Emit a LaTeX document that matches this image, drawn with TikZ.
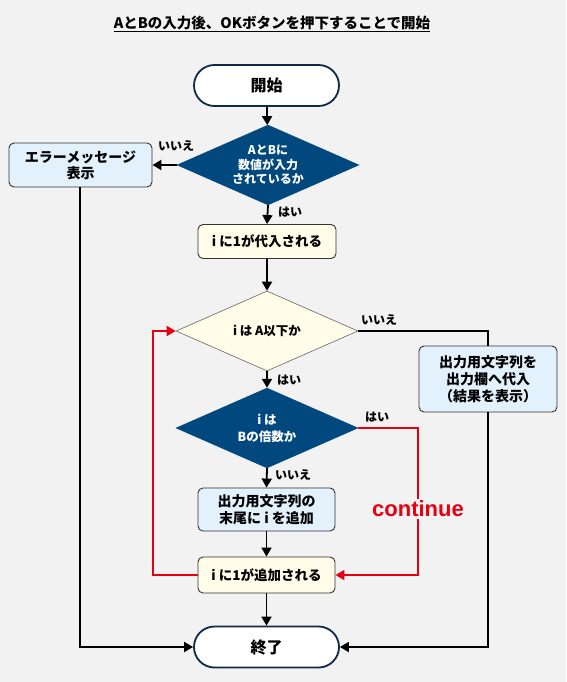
\documentclass[tikz,border=0pt]{standalone}
\usepackage{fontspec}
\setmainfont{Noto Sans CJK JP}
\newfontfamily\latinbold{Liberation Sans}
\usetikzlibrary{shapes.geometric,shapes.misc,arrows.meta}
\definecolor{bg}{HTML}{F2F2F2}
\definecolor{navy}{HTML}{0E2A47}
\definecolor{decblue}{HTML}{00487E}
\definecolor{lblue}{HTML}{E2F1FB}
\definecolor{lyellow}{HTML}{FFFDE8}
\definecolor{boxborder}{HTML}{333333}
\definecolor{loopred}{HTML}{E60012}
\tikzset{
  every node/.style={font=\bfseries},
  term/.style={rounded rectangle, draw=navy, line width=1.8pt, fill=white, minimum width=145pt, minimum height=41pt, inner sep=0pt, font=\bfseries\fontsize{16}{18}\selectfont},
  procblue/.style={rectangle, rounded corners=5pt, draw=boxborder, line width=0.9pt, fill=lblue, inner sep=0pt, align=center, font=\bfseries\fontsize{14}{17}\selectfont},
  procyellow/.style={rectangle, rounded corners=5pt, draw=boxborder, line width=0.9pt, fill=lyellow, inner sep=0pt, align=center, font=\bfseries\fontsize{13.5}{17}\selectfont},
  decdark/.style={diamond, shape aspect=2.3, fill=decblue, draw=decblue, inner sep=0pt, minimum width=182pt, minimum height=80pt, align=center, text=white, font=\bfseries\fontsize{12}{14.5}\selectfont},
  declight/.style={diamond, shape aspect=2.3, fill=lyellow, draw=gray!80!black, line width=0.6pt, inner sep=0pt, minimum width=182pt, minimum height=80pt, align=center, font=\bfseries\fontsize{12.5}{15}\selectfont},
  lbl/.style={font=\bfseries\fontsize{12}{14}\selectfont, inner sep=1pt},
  flow/.style={line width=1.8pt, -{Triangle[length=9pt,width=10pt]}},
  plain/.style={line width=1.8pt},
  redflow/.style={line width=1.7pt, draw=loopred, -{Triangle[length=9pt,width=10pt]}, color=loopred},
}
\begin{document}
\begin{tikzpicture}[x=1pt,y=-1pt]
\useasboundingbox[fill=bg] (0,0) rectangle (566,682);
\node[font=\bfseries\fontsize{14.5}{16}\selectfont] (title) at (272,24) {\underline{AとBの入力後、OKボタンを押下することで開始}};
\node[term] (start) at (266.5,85.5) {開始};
\node[decdark] (dec1) at (268,165) {AとBに\\数値が入力\\されているか};
\node[procblue, minimum width=143pt, minimum height=44pt, font=\bfseries\fontsize{14}{16}\selectfont] (err) at (80.5,165) {エラーメッセージ\\表示};
\node[procyellow, minimum width=138pt, minimum height=34pt] (init) at (267,241.5) {i に1が代入される};
\node[declight] (dec2) at (267,331) {i は A以下か};
\node[procblue, minimum width=138pt, minimum height=66pt] (out) at (488,379) {出力用文字列を\\出力欄へ代入\\（結果を表示）};
\node[decdark, font=\bfseries\fontsize{12.5}{17}\selectfont] (dec3) at (267,428) {i は\\Bの倍数か};
\node[procblue, minimum width=137pt, minimum height=43pt] (app) at (266.5,509.5) {出力用文字列の\\末尾に i を追加};
\node[procyellow, minimum width=137pt, minimum height=36pt] (inc) at (266.5,575) {i に1が追加される};
\node[term] (end) at (266.5,647) {終了};
\coordinate (c1) at (488,331);
\coordinate (c2) at (488,647);
\coordinate (c3) at (418,428);
\coordinate (c4) at (418,575);
\coordinate (c5) at (153,575);
\coordinate (c6) at (153,331);
\coordinate (c7) at (80,647);
\draw[flow] (start) -- (dec1);
\draw[flow] (dec1.west) -- (err.east);
\draw[flow] (dec1.south) -- (init.north);
\draw[flow] (init.south) -- (dec2.north);
\draw[plain] (dec2.east) -- (c1) -- (out.north);
\draw[flow] (out.south) -- (c2) -- (end.east);
\draw[flow] (dec2.south) -- (dec3.north);
\draw[flow] (dec3.south) -- (app.north);
\draw[flow] (app.south) -- (inc.north);
\draw[flow] (inc.south) -- (end.north);
\draw[flow] (err.south -| c7) -- (c7) -- (end.west);
\draw[redflow] (dec3.east) -- (c3) -- node[pos=0.55, fill=bg, text=loopred, inner sep=2pt, font=\latinbold\bfseries\fontsize{22}{24}\selectfont] (cont) {continue} (c4) -- (inc.east);
\draw[redflow] (inc.west) -- (c5) -- (c6) -- (dec2.west);
\node[lbl] (l1) at (176,146) {いいえ};
\node[lbl] (l2) at (290,212) {はい};
\node[lbl] (l3) at (379,320) {いいえ};
\node[lbl] (l4) at (289,380) {はい};
\node[lbl] (l5) at (377,417) {はい};
\node[lbl] (l6) at (293,475) {いいえ};
\end{tikzpicture}
\end{document}
